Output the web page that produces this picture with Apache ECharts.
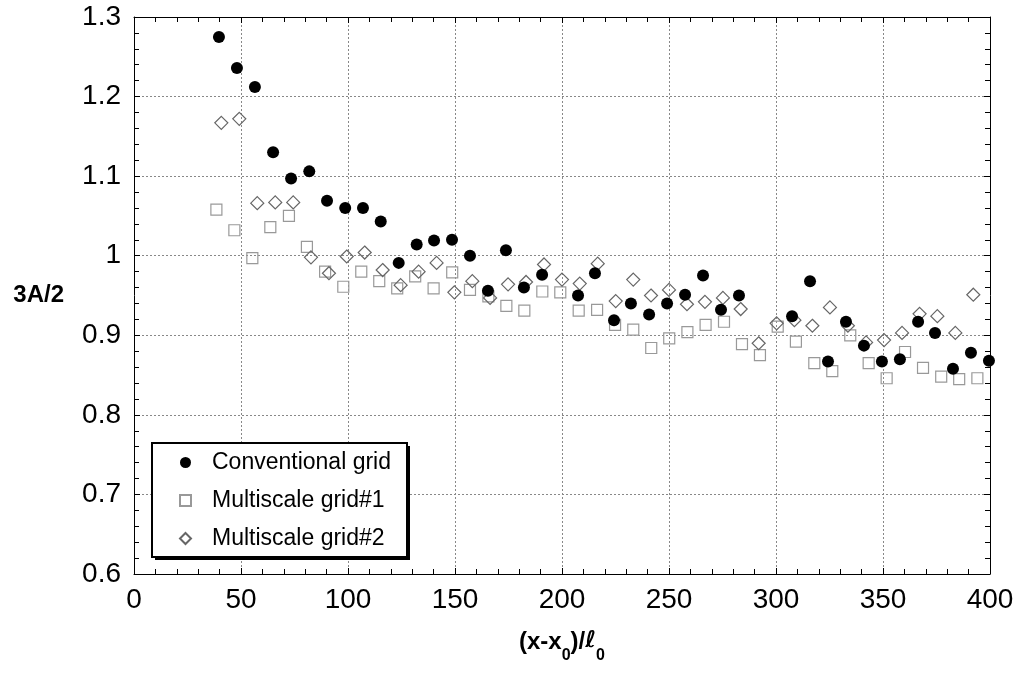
<!DOCTYPE html>
<html>
<head>
<meta charset="utf-8">
<script src="https://cdn.jsdelivr.net/npm/echarts@6/dist/echarts.min.js"></script>
<style>html,body{margin:0;padding:0;background:#fff;}#c{width:1020px;height:675px;}</style>
</head>
<body>
<div id="c"></div>
<script>
// Conventional grid (filled circles)
const convX = [39.7, 48.1, 56.5, 65.0, 73.4, 81.9, 90.2, 98.7, 107.0, 115.3, 123.7, 132.1, 140.2, 148.6, 157.0, 165.4, 173.8, 182.2, 190.7, 207.5, 215.4, 224.3, 232.2, 240.7, 249.1, 257.5, 265.9, 274.3, 282.7, 307.5, 315.9, 324.3, 332.7, 341.1, 349.5, 357.9, 366.4, 374.3, 382.7, 391.1, 399.5];
const convY = [1.275, 1.236, 1.212, 1.130, 1.097, 1.106, 1.069, 1.060, 1.060, 1.043, 0.991, 1.014, 1.019, 1.020, 1.000, 0.956, 1.007, 0.960, 0.976, 0.950, 0.978, 0.919, 0.940, 0.926, 0.940, 0.951, 0.975, 0.932, 0.950, 0.924, 0.968, 0.867, 0.917, 0.887, 0.867, 0.870, 0.917, 0.903, 0.858, 0.878, 0.868];
// Multiscale grid#1 (open squares)
const ms1X = [38.5, 46.9, 55.3, 63.7, 72.4, 80.8, 89.3, 97.8, 106.2, 114.6, 123.0, 131.4, 140.0, 148.7, 157.0, 165.6, 174.0, 182.4, 190.8, 199.2, 207.8, 216.4, 224.8, 233.3, 241.7, 250.1, 258.6, 267.1, 275.7, 284.1, 292.5, 300.8, 309.3, 317.9, 326.3, 334.7, 343.3, 351.7, 360.3, 368.7, 377.2, 385.6, 394.1];
const ms1Y = [1.058, 1.032, 0.997, 1.036, 1.050, 1.011, 0.980, 0.961, 0.980, 0.968, 0.959, 0.974, 0.959, 0.979, 0.957, 0.949, 0.937, 0.931, 0.955, 0.954, 0.931, 0.932, 0.913, 0.907, 0.884, 0.896, 0.904, 0.913, 0.917, 0.889, 0.875, 0.911, 0.892, 0.865, 0.855, 0.900, 0.865, 0.846, 0.879, 0.859, 0.848, 0.845, 0.846];
// Multiscale grid#2 (open diamonds)
const ms2X = [40.8, 49.2, 57.6, 66.0, 74.4, 82.7, 91.1, 99.4, 107.8, 116.2, 124.6, 133.0, 141.4, 149.7, 158.1, 166.4, 174.8, 183.2, 191.6, 200.0, 208.3, 216.7, 225.1, 233.3, 241.6, 250.0, 258.4, 266.8, 275.2, 283.5, 291.9, 300.3, 308.6, 317.0, 325.2, 333.6, 342.1, 350.5, 358.9, 367.1, 375.4, 383.8, 392.2];
const ms2Y = [1.167, 1.172, 1.066, 1.067, 1.067, 0.998, 0.978, 0.999, 1.004, 0.982, 0.963, 0.980, 0.991, 0.954, 0.968, 0.947, 0.964, 0.967, 0.989, 0.970, 0.965, 0.990, 0.943, 0.970, 0.950, 0.957, 0.939, 0.942, 0.947, 0.933, 0.890, 0.915, 0.919, 0.912, 0.935, 0.912, 0.891, 0.894, 0.903, 0.927, 0.924, 0.903, 0.951];

const seriesNames = ['Conventional grid', 'Multiscale grid#1', 'Multiscale grid#2'];
const xRange = [0, 400, 50];
const yRange = [0.6, 1.3, 0.1];

const zip = (xs, ys) => xs.map((x, i) => [x, ys[i]]);
const FONT = '"Liberation Sans", Arial, Helvetica, sans-serif';

const chart = echarts.init(document.getElementById('c'), null, {renderer: 'canvas'});

const baseAxis = {
  axisLine: {show: true, onZero: false, lineStyle: {color: '#000', width: 1}},
  axisTick: {show: true, inside: true, length: 6, lineStyle: {color: '#000', width: 1}},
  minorTick: {show: true, splitNumber: 5, length: 5, lineStyle: {color: '#000', width: 1}},
  splitLine: {show: false},
  minorSplitLine: {show: false}
};

chart.setOption({
  animation: false,
  backgroundColor: '#fff',
  grid: {left: 134, right: 30, top: 17, bottom: 101, containLabel: false},
  graphic: [
    {type: 'rect', z: 1, silent: true, shape: {x: 155, y: 446, width: 255, height: 114}, style: {fill: '#000'}}
  ],
  legend: {
    data: seriesNames,
    orient: 'vertical',
    left: 152, top: 443,
    z: 10,
    itemWidth: 11, itemHeight: 11,
    itemGap: 15,
    padding: [8, 16, 7, 27],
    backgroundColor: '#fff',
    borderColor: '#000', borderWidth: 2, borderRadius: 0,
    textStyle: {fontFamily: FONT, fontSize: 23, color: '#000', padding: [0, 0, 0, 16]}
  },
  xAxis: [
    Object.assign({}, baseAxis, {
      type: 'value', position: 'bottom',
      min: xRange[0], max: xRange[1], interval: xRange[2],
      splitLine: {show: true, lineStyle: {color: '#888', type: [2, 2], width: 1}},
      axisLabel: {fontFamily: FONT, fontSize: 28, color: '#000', margin: 12},
      name: '{m|(x-x}{sub|0}{m|)/}{it|ℓ}{sub|0}',
      nameLocation: 'middle', nameGap: 56,
      nameTextStyle: {
        fontFamily: FONT, fontSize: 24, fontWeight: 'bold', color: '#000',
        rich: {
          m: {fontFamily: FONT, fontSize: 24, fontWeight: 'bold', color: '#000', lineHeight: 24, verticalAlign: 'top'},
          sub: {fontFamily: FONT, fontSize: 16, fontWeight: 'bold', color: '#000', lineHeight: 34, verticalAlign: 'bottom'},
          it: {fontFamily: '"DejaVu Sans", sans-serif', fontSize: 23, fontWeight: 'bold', fontStyle: 'italic', color: '#000', lineHeight: 24, verticalAlign: 'top'}
        }
      }
    }),
    Object.assign({}, baseAxis, {
      type: 'value', position: 'top',
      min: xRange[0], max: xRange[1], interval: xRange[2],
      axisLabel: {show: false}
    })
  ],
  yAxis: [
    Object.assign({}, baseAxis, {
      type: 'value', position: 'left',
      min: yRange[0], max: yRange[1], interval: yRange[2],
      splitLine: {show: true, lineStyle: {color: '#888', type: [2, 2], width: 1}},
      axisLabel: {fontFamily: FONT, fontSize: 28, color: '#000', margin: 13,
        formatter: v => String(+v.toFixed(1))},
      name: '3A/2',
      nameLocation: 'middle', nameRotate: 0, nameGap: 70,
      nameTextStyle: {fontFamily: FONT, fontSize: 24, fontWeight: 'bold', color: '#000', align: 'right', padding: [0, 0, 14, 0]}
    }),
    Object.assign({}, baseAxis, {
      type: 'value', position: 'right',
      min: yRange[0], max: yRange[1], interval: yRange[2],
      axisLabel: {show: false}
    })
  ],
  series: [
    {
      name: seriesNames[0], type: 'scatter', z: 4,
      symbol: 'circle', symbolSize: 12,
      itemStyle: {color: '#000', opacity: 1},
      data: zip(convX, convY)
    },
    {
      name: seriesNames[1], type: 'scatter', z: 2,
      symbol: 'rect', symbolSize: 11,
      itemStyle: {color: 'rgba(255,255,255,0)', borderColor: '#999', borderWidth: 1.2, opacity: 1},
      data: zip(ms1X, ms1Y)
    },
    {
      name: seriesNames[2], type: 'scatter', z: 3,
      symbol: 'diamond', symbolSize: 13,
      itemStyle: {color: 'rgba(255,255,255,0)', borderColor: '#666', borderWidth: 1.2, opacity: 1},
      data: zip(ms2X, ms2Y)
    }
  ]
});
</script>
</body>
</html>
